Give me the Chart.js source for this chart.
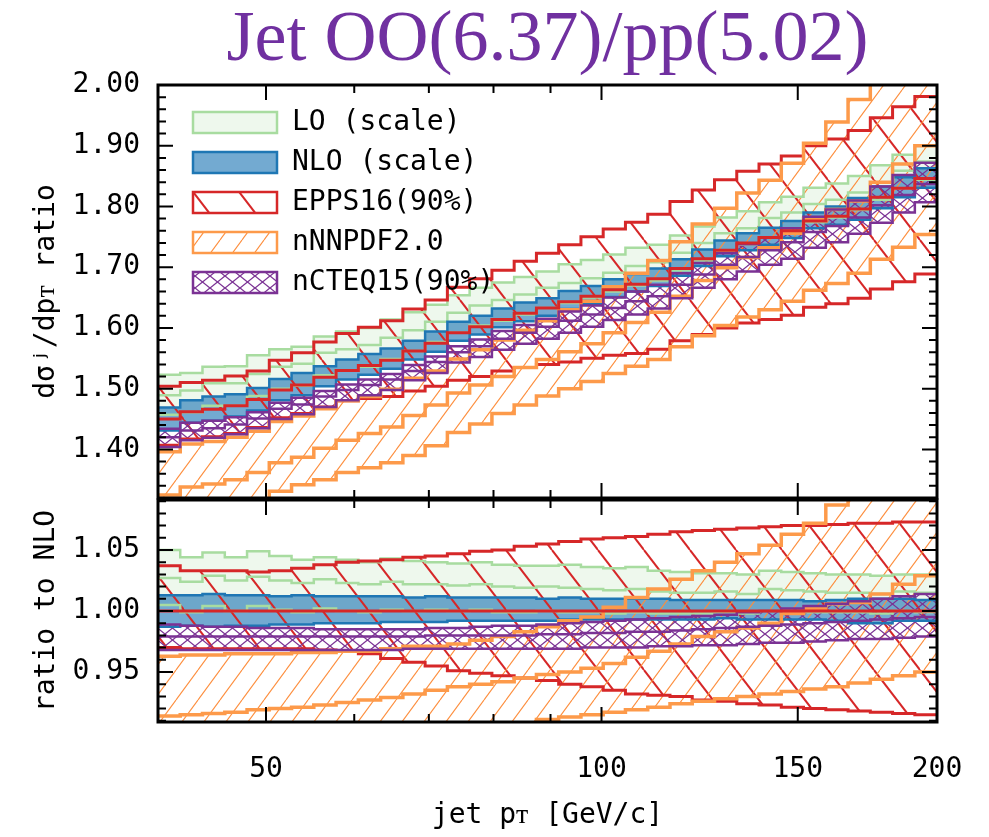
<!DOCTYPE html>
<html>
<head>
<meta charset="utf-8">
<script src="https://cdn.jsdelivr.net/npm/chart.js@4.4.1/dist/chart.umd.min.js"></script>
<style>
  html, body { margin: 0; padding: 0; background: #fff; }
  #wrap { position: relative; width: 989px; height: 837px; overflow: hidden; }
  #top { position: absolute; left: 0; top: 0; }
  #bot { position: absolute; left: 0; top: 490px; }
  #title { position: absolute; left: 158px; width: 779px; top: 0; text-align: center;
           font: 72px "Liberation Serif", "Times New Roman", serif; line-height: 72px; color: #7030a0; }
</style>
</head>
<body>
<div id="wrap">
  <canvas id="top" width="989" height="500"></canvas>
  <canvas id="bot" width="989" height="347"></canvas>
  <div id="title">Jet OO(6.37)/pp(5.02)</div>
</div>
<script>
// --- DATA ---
// jet pT bin edges (GeV/c), 35 bins
const binEdges = [40, 41.88, 43.85, 45.92, 48.08, 50.34, 52.71, 55.19, 57.79, 60.51, 63.36, 66.34,
  69.46, 72.73, 76.15, 79.74, 83.49, 87.42, 91.53, 95.84, 100.35, 105.07, 110.02, 115.20, 120.62,
  126.30, 132.24, 138.46, 144.98, 151.80, 158.95, 166.43, 174.26, 182.46, 191.05, 200];

const xTicks = [50, 100, 150, 200];
const xMinorTicks = [60, 70, 80, 90];
const topYTicks = [1.4, 1.5, 1.6, 1.7, 1.8, 1.9, 2.0];
const botYTicks = [0.95, 1.0, 1.05];

// upper panel: OO/pp ratio
const loHi   = [1.523,1.526,1.536,1.537,1.555,1.565,1.569,1.586,1.594,1.600,1.614,1.626,1.638,1.654,1.666,1.675,1.684,1.693,1.705,1.712,1.721,1.732,1.737,1.752,1.767,1.782,1.792,1.807,1.816,1.831,1.838,1.850,1.868,1.885,1.901];
const loMid  = [1.489,1.497,1.509,1.509,1.524,1.536,1.541,1.559,1.565,1.572,1.584,1.596,1.610,1.625,1.637,1.646,1.655,1.666,1.674,1.682,1.691,1.702,1.708,1.724,1.740,1.756,1.764,1.781,1.790,1.804,1.811,1.823,1.840,1.859,1.874];
const loLo   = [1.457,1.461,1.472,1.472,1.488,1.500,1.505,1.522,1.530,1.536,1.549,1.562,1.577,1.592,1.604,1.612,1.622,1.633,1.641,1.650,1.660,1.670,1.678,1.695,1.711,1.726,1.737,1.749,1.760,1.774,1.782,1.794,1.811,1.830,1.844];
const nloHi  = [1.469,1.481,1.487,1.491,1.501,1.516,1.526,1.537,1.548,1.557,1.566,1.579,1.594,1.610,1.620,1.632,1.642,1.649,1.661,1.669,1.680,1.689,1.698,1.713,1.729,1.744,1.756,1.765,1.776,1.790,1.800,1.814,1.833,1.848,1.863];
const nloLo  = [1.431,1.444,1.447,1.454,1.464,1.481,1.489,1.504,1.515,1.523,1.533,1.548,1.561,1.579,1.589,1.601,1.611,1.620,1.631,1.640,1.651,1.660,1.669,1.686,1.702,1.718,1.728,1.737,1.748,1.764,1.770,1.778,1.797,1.815,1.831];
const eppsHi = [1.504,1.510,1.514,1.521,1.529,1.547,1.559,1.577,1.591,1.601,1.612,1.631,1.646,1.667,1.681,1.695,1.710,1.723,1.737,1.750,1.763,1.774,1.787,1.808,1.827,1.844,1.858,1.870,1.883,1.900,1.911,1.925,1.946,1.964,1.981];
const eppsMid= [1.450,1.462,1.466,1.472,1.482,1.498,1.506,1.519,1.530,1.538,1.547,1.562,1.575,1.592,1.602,1.614,1.624,1.633,1.643,1.652,1.663,1.672,1.681,1.698,1.714,1.728,1.740,1.749,1.760,1.776,1.784,1.796,1.815,1.830,1.846];
const eppsLo = [1.407,1.417,1.421,1.426,1.436,1.452,1.459,1.470,1.480,1.484,1.487,1.496,1.504,1.514,1.520,1.529,1.535,1.540,1.544,1.550,1.555,1.558,1.565,1.579,1.589,1.600,1.608,1.614,1.621,1.634,1.640,1.649,1.664,1.676,1.689];
const nnHi   = [1.396,1.409,1.413,1.420,1.430,1.446,1.455,1.467,1.480,1.487,1.499,1.517,1.529,1.549,1.564,1.580,1.596,1.612,1.630,1.644,1.668,1.690,1.711,1.742,1.771,1.797,1.822,1.843,1.871,1.904,1.939,1.976,2.015,2.050,2.086];
const nnMid  = [1.325,1.338,1.343,1.350,1.362,1.378,1.387,1.402,1.415,1.426,1.437,1.456,1.473,1.493,1.506,1.520,1.535,1.548,1.561,1.574,1.592,1.609,1.626,1.652,1.678,1.699,1.716,1.732,1.756,1.780,1.795,1.809,1.840,1.870,1.900];
const nnLo   = [1.264,1.281,1.289,1.298,1.312,1.331,1.342,1.350,1.362,1.370,1.378,1.390,1.406,1.428,1.442,1.459,1.473,1.488,1.500,1.512,1.525,1.537,1.548,1.569,1.587,1.604,1.618,1.630,1.644,1.662,1.673,1.690,1.713,1.733,1.754];
const ctHi   = [1.434,1.444,1.447,1.453,1.461,1.477,1.485,1.496,1.507,1.515,1.524,1.539,1.553,1.570,1.581,1.595,1.605,1.615,1.627,1.637,1.650,1.660,1.671,1.690,1.707,1.723,1.738,1.749,1.764,1.783,1.795,1.810,1.833,1.852,1.872];
const ctMid  = [1.420,1.431,1.435,1.441,1.451,1.467,1.474,1.487,1.498,1.506,1.515,1.529,1.544,1.560,1.570,1.582,1.592,1.602,1.612,1.622,1.633,1.644,1.652,1.671,1.688,1.704,1.717,1.728,1.741,1.758,1.768,1.782,1.802,1.819,1.837];
const ctLo   = [1.404,1.415,1.419,1.425,1.435,1.450,1.458,1.470,1.481,1.489,1.498,1.514,1.526,1.543,1.552,1.564,1.574,1.582,1.592,1.602,1.613,1.622,1.632,1.649,1.666,1.680,1.693,1.704,1.714,1.732,1.741,1.755,1.773,1.790,1.807];

// lower panel: ratio to NLO
const loHiR   = [1.050,1.044,1.048,1.044,1.049,1.045,1.042,1.044,1.042,1.040,1.043,1.041,1.040,1.039,1.040,1.038,1.037,1.037,1.038,1.036,1.035,1.036,1.033,1.032,1.031,1.031,1.030,1.033,1.032,1.031,1.030,1.030,1.029,1.030,1.030];
const loMidR  = [1.027,1.024,1.029,1.025,1.028,1.025,1.023,1.026,1.023,1.022,1.024,1.022,1.022,1.021,1.022,1.020,1.019,1.020,1.019,1.018,1.017,1.018,1.016,1.015,1.015,1.016,1.014,1.018,1.017,1.016,1.015,1.015,1.014,1.016,1.015];
const loLoR   = [1.005,0.999,1.004,1.000,1.004,1.001,0.999,1.002,1.000,0.999,1.001,1.000,1.001,1.000,1.001,0.999,0.999,1.000,0.999,0.999,0.998,0.999,0.998,0.998,0.998,0.999,0.998,1.000,1.000,0.999,0.999,0.999,0.998,1.000,0.999];
const nloHiR  = [1.013,1.013,1.014,1.013,1.013,1.012,1.013,1.012,1.012,1.012,1.012,1.011,1.012,1.011,1.011,1.011,1.011,1.010,1.011,1.010,1.010,1.010,1.010,1.009,1.009,1.009,1.009,1.009,1.009,1.008,1.009,1.010,1.010,1.010,1.009];
const nloLoR  = [0.987,0.988,0.987,0.988,0.988,0.989,0.989,0.990,0.990,0.990,0.991,0.991,0.991,0.992,0.992,0.992,0.992,0.992,0.993,0.993,0.993,0.993,0.993,0.993,0.993,0.994,0.993,0.993,0.993,0.993,0.992,0.990,0.990,0.992,0.992];
const eppsHiR = [1.037,1.033,1.033,1.033,1.032,1.033,1.035,1.038,1.040,1.041,1.042,1.044,1.045,1.047,1.049,1.050,1.053,1.055,1.057,1.059,1.060,1.061,1.063,1.065,1.066,1.067,1.068,1.069,1.070,1.070,1.071,1.072,1.072,1.073,1.073];
const eppsMidR= [1.000,1.000,1.000,1.000,1.000,1.000,1.000,1.000,1.000,1.000,1.000,1.000,1.000,1.000,1.000,1.000,1.000,1.000,1.000,1.000,1.000,1.000,1.000,1.000,1.000,1.000,1.000,1.000,1.000,1.000,1.000,1.000,1.000,1.000,1.000];
const eppsLoR = [0.970,0.969,0.969,0.969,0.969,0.969,0.969,0.968,0.967,0.965,0.961,0.958,0.955,0.951,0.949,0.947,0.945,0.943,0.940,0.938,0.935,0.932,0.931,0.930,0.927,0.926,0.924,0.923,0.921,0.920,0.919,0.918,0.917,0.916,0.915];
const nnHiR   = [0.963,0.964,0.964,0.965,0.965,0.965,0.966,0.966,0.967,0.967,0.969,0.971,0.971,0.973,0.976,0.979,0.983,0.987,0.992,0.995,1.003,1.011,1.018,1.026,1.033,1.040,1.047,1.054,1.063,1.072,1.087,1.100,1.110,1.120,1.130];
const nnMidR  = [0.914,0.915,0.916,0.917,0.919,0.920,0.921,0.923,0.925,0.927,0.929,0.932,0.935,0.938,0.940,0.942,0.945,0.948,0.950,0.953,0.957,0.962,0.967,0.973,0.979,0.983,0.986,0.990,0.998,1.002,1.006,1.007,1.014,1.022,1.029];
const nnLoR   = [0.872,0.876,0.879,0.882,0.885,0.889,0.891,0.889,0.890,0.891,0.891,0.890,0.893,0.897,0.900,0.904,0.907,0.911,0.913,0.915,0.917,0.919,0.921,0.924,0.926,0.928,0.930,0.932,0.934,0.936,0.938,0.941,0.944,0.947,0.950];
const ctHiR   = [0.989,0.988,0.987,0.987,0.986,0.986,0.986,0.985,0.985,0.985,0.985,0.985,0.986,0.986,0.987,0.988,0.988,0.989,0.990,0.991,0.992,0.993,0.994,0.995,0.996,0.997,0.999,1.000,1.002,1.004,1.006,1.008,1.010,1.012,1.014];
const ctMidR  = [0.979,0.979,0.979,0.979,0.979,0.979,0.979,0.979,0.979,0.979,0.979,0.979,0.980,0.980,0.980,0.980,0.980,0.981,0.981,0.982,0.982,0.983,0.983,0.984,0.985,0.986,0.987,0.988,0.989,0.990,0.991,0.992,0.993,0.994,0.995];
const ctLoR   = [0.968,0.968,0.968,0.968,0.968,0.968,0.968,0.968,0.968,0.968,0.968,0.969,0.969,0.969,0.969,0.969,0.969,0.969,0.969,0.970,0.970,0.970,0.971,0.971,0.972,0.972,0.973,0.974,0.974,0.975,0.976,0.977,0.977,0.978,0.979];

// --- STYLE ---
const FONT = { family: '"DejaVu Sans Mono", monospace', size: 28 };

// hatch tiles (line families repeat exactly on the tile)
function hatch(w, h, color, lw, kind) {
  const c = document.createElement('canvas');
  c.width = w; c.height = h;
  const g = c.getContext('2d');
  g.strokeStyle = color; g.lineWidth = lw;
  const seg = (x0, y0, x1, y1) => { g.beginPath(); g.moveTo(x0, y0); g.lineTo(x1, y1); g.stroke(); };
  for (const k of [-1, 0, 1]) {
    if (kind !== 'fwd') seg(k * w, 0, (k + 1) * w, h);   // "\"
    if (kind !== 'back') seg(k * w, h, (k + 1) * w, 0);  // "/"
  }
  return g.createPattern(c, 'repeat');
}

const S = {
  lo:   { line: '#a8dca0', width: 2.5, fill: 'rgba(161,217,155,0.18)' },
  nlo:  { line: '#1f77b4', width: 2.5, fill: 'rgba(40,125,185,0.65)' },
  epps: { line: '#d62728', width: 3,   fill: hatch(46, 60, '#d62728', 2, 'back') },
  nn:   { line: '#fd9a4a', width: 3.5, fill: hatch(22, 30, '#fd8d3c', 1.1, 'fwd') },
  ct:   { line: '#7b3294', width: 2.5, fill: hatch(15, 12, '#7b3294', 1.3, 'cross') }
};

// histogram points: left edges + closing right edge
function steps(vals) {
  const pts = vals.map((v, i) => ({ x: binEdges[i], y: v }));
  pts.push({ x: binEdges[vals.length], y: vals[vals.length - 1] });
  return pts;
}

function panelDatasets(p) {
  const sets = [];
  const add = (vals, st, target) => {
    const i = sets.length;
    sets.push({
      data: steps(vals),
      borderColor: st.line,
      borderWidth: st.width,
      backgroundColor: target == null ? 'transparent' : st.fill,
      fill: target == null ? false : target,
      stepped: true,
      pointRadius: 0,
      order: 1000 - i
    });
    return i;
  };
  let lo;
  lo = add(p.loLo, S.lo);   add(p.loHi, S.lo, lo);   add(p.loMid, S.lo);
  lo = add(p.nloLo, S.nlo); add(p.nloHi, S.nlo, lo);
  lo = add(p.eppsLo, S.epps); add(p.eppsHi, S.epps, lo);
  lo = add(p.nnLo, S.nn);   add(p.nnHi, S.nn, lo);     add(p.nnMid, S.nn);
  lo = add(p.ctLo, S.ct);   add(p.ctHi, S.ct, lo);     add(p.ctMid, S.ct);
  add(p.eppsMid, S.epps);
  return sets;
}

// frame with inward major/minor ticks on all sides
const framePlugin = {
  id: 'frame',
  afterDatasetsDraw(chart, args, o) {
    const { ctx, chartArea: a } = chart;
    const x = chart.scales.x, y = chart.scales.y;
    ctx.save();
    ctx.strokeStyle = '#000';
    ctx.lineWidth = 2;
    ctx.beginPath();
    const vt = (px, len) => { ctx.moveTo(px, a.bottom); ctx.lineTo(px, a.bottom - len); ctx.moveTo(px, a.top); ctx.lineTo(px, a.top + len); };
    const ht = (py, len) => { ctx.moveTo(a.left, py); ctx.lineTo(a.left + len, py); ctx.moveTo(a.right, py); ctx.lineTo(a.right - len, py); };
    xTicks.forEach(v => vt(x.getPixelForValue(v), 15));
    xMinorTicks.forEach(v => vt(x.getPixelForValue(v), 8));
    o.yMajor.forEach(v => ht(y.getPixelForValue(v), 15));
    const k0 = Math.ceil(y.min / o.yMinorStep - 1e-6), k1 = Math.floor(y.max / o.yMinorStep + 1e-6);
    for (let k = k0; k <= k1; k++) {
      const v = k * o.yMinorStep;
      if (!o.yMajor.some(m => Math.abs(m - v) < 1e-6)) ht(y.getPixelForValue(v), 8);
    }
    ctx.stroke();
    ctx.lineWidth = 3;
    ctx.strokeRect(a.left, a.top, a.right - a.left, a.bottom - a.top);
    ctx.restore();
  }
};

// legend inside the upper panel
const legendItems = [
  { text: 'LO (scale)', st: S.lo },
  { text: 'NLO (scale)', st: S.nlo },
  { text: 'EPPS16(90%)', st: S.epps },
  { text: 'nNNPDF2.0', st: S.nn },
  { text: 'nCTEQ15(90%)', st: S.ct }
];
const legendPlugin = {
  id: 'bandLegend',
  afterDatasetsDraw(chart) {
    const ctx = chart.ctx;
    ctx.save();
    legendItems.forEach((it, i) => {
      const cy = 122 + i * 40;
      ctx.fillStyle = it.st.fill;
      ctx.fillRect(193, cy - 10, 84, 21);
      ctx.strokeStyle = it.st.line;
      ctx.lineWidth = 2.5;
      ctx.strokeRect(193, cy - 10, 84, 21);
      ctx.fillStyle = '#000';
      ctx.font = '28px "DejaVu Sans Mono", monospace';
      ctx.textBaseline = 'middle';
      ctx.fillText(it.text, 292, cy + 1);
    });
    ctx.restore();
  }
};

function yAxis(min, max, ticks, title) {
  return {
    min, max,
    afterBuildTicks: s => { s.ticks = ticks.map(v => ({ value: v })); },
    afterFit: s => { s.width = 158; s.paddingTop = 0; s.paddingBottom = 0; },
    grid: { display: false, drawTicks: false },
    border: { display: false },
    ticks: { font: FONT, color: '#000', padding: 18, callback: v => v.toFixed(2) },
    title: { display: true, text: title, font: FONT, color: '#000', padding: { top: 30, bottom: 0 } }
  };
}

const common = {
  responsive: false,
  animation: false,
  events: [],
  plugins: { legend: { display: false }, tooltip: { enabled: false }, filler: { drawTime: 'beforeDatasetsDraw' } }
};

new Chart(document.getElementById('top'), {
  type: 'line',
  data: { datasets: panelDatasets({ loLo, loHi, loMid, nloLo, nloHi, eppsLo, eppsHi, eppsMid, nnLo, nnHi, nnMid, ctLo, ctHi, ctMid }) },
  options: {
    ...common,
    layout: { padding: { top: 85, right: 52, bottom: 2, left: 0 } },
    plugins: { ...common.plugins, frame: { yMajor: topYTicks, yMinorStep: 0.02 } },
    scales: {
      x: { type: 'logarithmic', min: 40, max: 200, display: false },
      y: yAxis(1.32, 2.0, topYTicks, 'dσʲ/dpᴛ ratio')
    }
  },
  plugins: [framePlugin, legendPlugin]
});

new Chart(document.getElementById('bot'), {
  type: 'line',
  data: { datasets: panelDatasets({ loLo: loLoR, loHi: loHiR, loMid: loMidR, nloLo: nloLoR, nloHi: nloHiR,
    eppsLo: eppsLoR, eppsHi: eppsHiR, eppsMid: eppsMidR, nnLo: nnLoR, nnHi: nnHiR, nnMid: nnMidR,
    ctLo: ctLoR, ctHi: ctHiR, ctMid: ctMidR }) },
  options: {
    ...common,
    layout: { padding: { top: 10, right: 52, bottom: 0, left: 0 } },
    plugins: { ...common.plugins, frame: { yMajor: botYTicks, yMinorStep: 0.01 } },
    scales: {
      x: {
        type: 'logarithmic', min: 40, max: 200,
        afterBuildTicks: s => { s.ticks = xTicks.map(v => ({ value: v })); },
        afterFit: s => { s.height = 115; s.paddingLeft = 0; s.paddingRight = 0; },
        grid: { display: false, drawTicks: false },
        border: { display: false },
        ticks: { autoSkip: false, maxRotation: 0, font: FONT, color: '#000', padding: 31, callback: v => String(v) },
        title: { display: true, text: 'jet pᴛ [GeV/c]', font: FONT, color: '#000', padding: { top: 0, bottom: 4 } }
      },
      y: yAxis(0.909, 1.091, botYTicks, 'ratio to NLO')
    }
  },
  plugins: [framePlugin]
});
</script>
</body>
</html>
